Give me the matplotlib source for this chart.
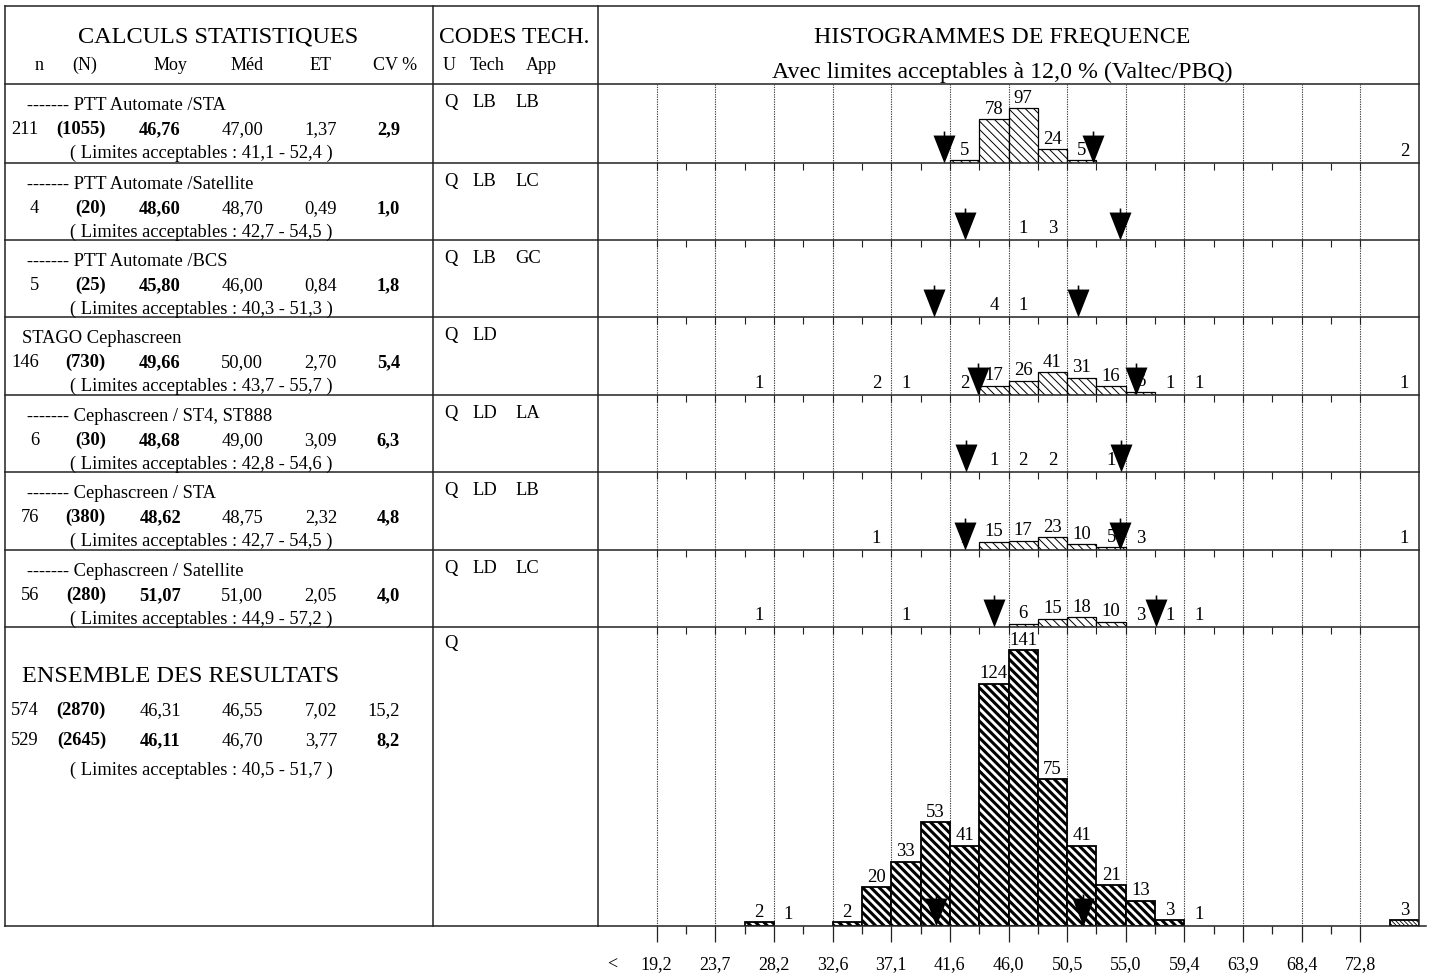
import numpy as np
import matplotlib
matplotlib.use("Agg")
import matplotlib.pyplot as plt
from matplotlib.lines import Line2D

plt.rcParams['font.family'] = ['Liberation Serif', 'DejaVu Serif']

W, H = 1429, 976

# x scale of the histograms: 13 grid lines, bins of half a grid step
grid_lo, grid_hi = 19.2, 72.8
grid_labels = ["19,2", "23,7", "28,2", "32,6", "37,1", "41,6", "46,0",
               "50,5", "55,0", "59,4", "63,9", "68,4", "72,8"]

group_names = ["------- PTT Automate /STA", "------- PTT Automate /Satellite",
               "------- PTT Automate /BCS", "STAGO Cephascreen",
               "------- Cephascreen / ST4, ST888", "------- Cephascreen / STA",
               "------- Cephascreen / Satellite"]
n_values = [211, 4, 5, 146, 6, 76, 56]
N_values = [1055, 20, 25, 730, 30, 380, 280]
moy = [46.76, 48.60, 45.80, 49.66, 48.68, 48.62, 51.07]
med = [47.00, 48.70, 46.00, 50.00, 49.00, 48.75, 51.00]
et = [1.37, 0.49, 0.84, 2.70, 3.09, 2.32, 2.05]
cv = [2.9, 1.0, 1.8, 5.4, 6.3, 4.8, 4.0]
lim_low = [41.1, 42.7, 40.3, 43.7, 42.8, 42.7, 44.9]
lim_high = [52.4, 54.5, 51.3, 55.7, 54.6, 54.5, 57.2]
codes = [("Q", "LB", "LB"), ("Q", "LB", "LC"), ("Q", "LB", "GC"), ("Q", "LD", ""),
         ("Q", "LD", "LA"), ("Q", "LD", "LB"), ("Q", "LD", "LC")]

# bin index j covers [19.2 + j*w, 19.2 + (j+1)*w]; -2 is "<", 25 is ">"
hist_bins = [
    [10, 11, 12, 13, 14, 25],
    [12, 13],
    [11, 12],
    [3, 7, 8, 10, 11, 12, 13, 14, 15, 16, 17, 18, 25],
    [11, 12, 13, 15],
    [7, 10, 11, 12, 13, 14, 15, 16, 25],
    [3, 8, 12, 13, 14, 15, 16, 17, 18],
]
hist_counts = [
    [5, 78, 97, 24, 5, 2],
    [1, 3],
    [4, 1],
    [1, 2, 1, 2, 17, 26, 41, 31, 16, 6, 1, 1, 1],
    [1, 2, 2, 1],
    [1, 1, 15, 17, 23, 10, 5, 3, 1],
    [1, 1, 6, 15, 18, 10, 3, 1, 1],
]

total_bins = [3, 4, 6, 7, 8, 9, 10, 11, 12, 13, 14, 15, 16, 17, 18, 25]
total_counts = [2, 1, 2, 20, 33, 53, 41, 124, 141, 75, 41, 21, 13, 3, 1, 3]
total_stats = [(574, 2870, 46.31, 46.55, 7.02, 15.2, False),
               (529, 2645, 46.11, 46.70, 3.77, 8.2, True)]
total_limits = (40.5, 51.7)

# layout in pixels
TL, C1, C2, TR = 5, 433, 598, 1419
TOP, HEAD_B, BOTTOM = 6, 84, 926
row_tops = [84, 163, 240, 317, 395, 472, 550, 627]
SMALL_YMAX, BIG_YMAX = 140, 153
MIN_BAR_PX = 2.5
BODY = 13.3

bw = (grid_hi - grid_lo) / 24
xlim = (grid_lo - 2 * bw, grid_lo + 26 * bw)
grid_vals = grid_lo + 2 * bw * np.arange(13)
half_vals = grid_lo + bw * np.arange(25)

fig = plt.figure(figsize=(W / 100, H / 100), dpi=100)


def fx(x):
    return x / W


def fy(y):
    return 1 - y / H


def ftext(x, y, s, size=BODY, **kw):
    # y is the text baseline, in pixels from the top
    fig.text(fx(x), fy(y), s, fontsize=size, va='baseline', **kw)


def hline(y, x0, x1, lw=1.1):
    fig.add_artist(Line2D([fx(x0), fx(x1)], [fy(y), fy(y)], color='#222222', lw=lw))


def vline(x, y0, y1, lw=1.1):
    fig.add_artist(Line2D([fx(x), fx(x)], [fy(y0), fy(y1)], color='#222222', lw=lw))


def fr(v, d):
    return f"{v:.{d}f}".replace('.', ',')


arrow = [(-11, 28), (-0.8, 28), (-0.8, 32), (0.8, 32), (0.8, 28), (11, 28), (0, 0)]


def add_axes(top, bottom):
    ax = fig.add_axes([fx(C2), fy(bottom), fx(TR - C2), (bottom - top) / H])
    ax.set_xlim(*xlim)
    ax.patch.set_visible(False)
    for s in ax.spines.values():
        s.set_visible(False)
    ax.set_yticks([])
    return ax


def draw_hist(ax, bins, counts, ymax, hatch_lw, edge_lw, lows, highs):
    px_per = ax.get_position().height * H / ymax
    left = grid_lo + np.array(bins) * bw
    for x0, j, c in zip(left, bins, counts):
        drawn = c * px_per >= MIN_BAR_PX
        if drawn:
            h = '\\' * 8 if j == 25 else '\\' * 4
            lw = 0.6 if j == 25 else hatch_lw
            b = ax.bar(x0, c, width=bw, align='edge', facecolor='white',
                       edgecolor='black', linewidth=edge_lw, hatch=h, zorder=3)
            for p in b:
                if hasattr(p, 'set_hatch_linewidth'):
                    p.set_hatch_linewidth(lw)
        ax.annotate(str(c), (x0 + bw / 2, c if drawn else 0),
                    xytext=(0, 1.0 if drawn else 2.5), textcoords='offset points',
                    ha='center', va='bottom', fontsize=13.5, zorder=4)
    ax.plot(lows + highs, [0] * (len(lows) + len(highs)), ls='none', marker=arrow,
            ms=46, color='black', mew=0, clip_on=False, zorder=6)


# background grid (dashed verticals)
bg = fig.add_axes([fx(C2), fy(BOTTOM), fx(TR - C2), (BOTTOM - HEAD_B) / H])
bg.set_xlim(*xlim)
bg.axis('off')
for v in grid_vals:
    bg.axvline(v, color='#444444', lw=0.8, ls=(0, (1.2, 1.0)))

# small histograms
for i in range(7):
    ax = add_axes(row_tops[i], row_tops[i + 1])
    ax.set_ylim(0, SMALL_YMAX)
    draw_hist(ax, hist_bins[i], hist_counts[i], SMALL_YMAX, 0.7, 0.9,
              [lim_low[i]], [lim_high[i]])
    ax.set_xticks(half_vals)
    ax.tick_params(axis='x', direction='out', length=5, width=0.8,
                   labelbottom=False, color='#222222')

# global histogram
axb = add_axes(row_tops[7], BOTTOM)
axb.set_ylim(0, BIG_YMAX)
draw_hist(axb, total_bins, total_counts, BIG_YMAX, 2.2, 1.3,
          [total_limits[0]], [total_limits[1]])
axb.set_xticks(grid_vals)
axb.set_xticklabels(grid_labels, fontsize=13)
axb.set_xticks(half_vals, minor=True)
axb.tick_params(axis='x', which='major', direction='out', length=11.5, width=0.9,
                pad=10.5, color='#222222')
axb.tick_params(axis='x', which='minor', direction='out', length=5.8, width=0.9,
                color='#222222')
axb.annotate('<', (grid_lo - 1.5 * bw, 0), xycoords=('data', 'axes fraction'),
             xytext=(0, -22), textcoords='offset points', ha='center', va='top',
             fontsize=13)

# table frame
hline(TOP, TL, TR)
hline(HEAD_B, TL, TR)
for y in row_tops[1:]:
    hline(y, TL, TR)
hline(BOTTOM, TL, 1426)
for x in (TL, C1, C2, TR):
    vline(x, TOP, BOTTOM)

# headers
ftext(218, 43, "CALCULS STATISTIQUES", size=17.5, ha='center')
for s, x in zip(["n", "(N)", "Moy", "Méd", "ET", "CV %"], [39, 85, 170, 247, 321, 395]):
    ftext(x, 70, s, size=13, ha='center')
ftext(514, 43, "CODES TECH.", size=17, ha='center')
for s, x in zip(["U", "Tech", "App"], [443, 470, 526]):
    ftext(x, 70, s, size=13, ha='left')
ftext(1002, 43, "HISTOGRAMMES DE FREQUENCE", size=17.2, ha='center')
ftext(1002, 78, "Avec limites acceptables à 12,0 % (Valtec/PBQ)", size=17.2, ha='center')

col_x = [39, 106, 181, 263, 337, 400]

for i in range(7):
    top = row_tops[i]
    ftext(27 if group_names[i].startswith('-') else 22, top + 26, group_names[i], ha='left')
    vals = [str(n_values[i]), f"({N_values[i]})", fr(moy[i], 2), fr(med[i], 2),
            fr(et[i], 2), fr(cv[i], 1)]
    bold = [False, True, True, False, False, True]
    for s, x, b in zip(vals, col_x, bold):
        ftext(x, top + 50, s, ha='right', weight='bold' if b else 'normal')
    ftext(70, top + 74, f"( Limites acceptables : {fr(lim_low[i], 1)} - {fr(lim_high[i], 1)} )",
          ha='left')
    for s, x in zip(codes[i], [444, 472, 515]):
        ftext(x, top + 23, s, ha='left')

# global block
ftext(22, 682, "ENSEMBLE DES RESULTATS", size=17.5, ha='left')
for k, (n, N, m, md, e, c, b) in enumerate(total_stats):
    vals = [str(n), f"({N})", fr(m, 2), fr(md, 2), fr(e, 2), fr(c, 1)]
    bold = [False, True, b, False, False, b]
    for s, x, bb in zip(vals, col_x, bold):
        ftext(x, 715 + 30 * k, s, ha='right', weight='bold' if bb else 'normal')
ftext(70, 775, f"( Limites acceptables : {fr(total_limits[0], 1)} - {fr(total_limits[1], 1)} )",
      ha='left')
ftext(444, 648, "Q", ha='left')

fig.savefig("out.png", dpi=100, facecolor='white')
